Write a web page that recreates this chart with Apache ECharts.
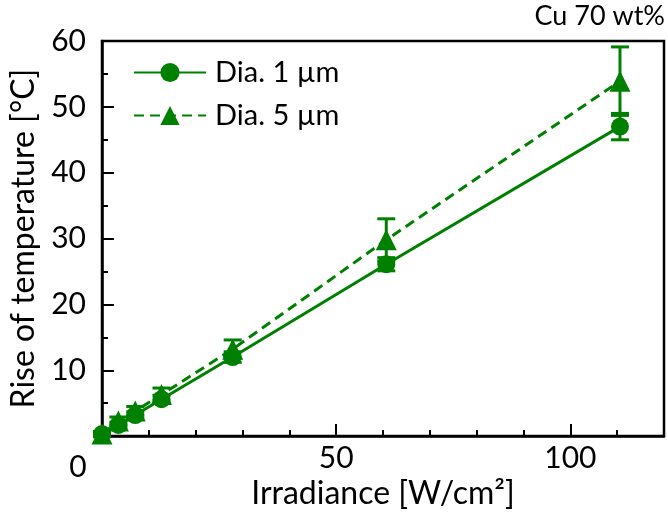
<!DOCTYPE html>
<html>
<head>
<meta charset="utf-8">
<script src="https://cdn.jsdelivr.net/npm/echarts@6/dist/echarts.min.js"></script>
<style>
  html, body { margin: 0; padding: 0; background: #fff; }
  #main { width: 668px; height: 515px; }
</style>
</head>
<body>
<div id="main"></div>
<script>
// irradiance [W/cm2]
var irradiance = [0, 3.5, 7.1, 12.7, 27.9, 60.7, 110.6];
// Dia. 1 um
var rise1 = [0.3, 1.7, 3.2, 5.6, 12.0, 26.1, 47.0];
var err1 = [0.3, 0.4, 0.5, 0.6, 0.8, 1.0, 2.0];
// Dia. 5 um
var rise5 = [0.3, 2.3, 3.8, 6.3, 13.2, 29.8, 53.9];
var err5 = [0.4, 0.6, 0.7, 1.0, 1.4, 3.2, 5.2];
var names = ['Dia. 1 \u00b5m', 'Dia. 5 \u00b5m'];

var green = '#008000';
var font = 'Lato';

function pairs(xs, ys) {
  return xs.map(function (x, i) { return [x, ys[i]]; });
}
function errData(xs, ys, es) {
  return xs.map(function (x, i) { return [x, ys[i] - es[i], ys[i] + es[i]]; });
}
function errRender(params, api) {
  var lo = api.coord([api.value(0), api.value(1)]);
  var hi = api.coord([api.value(0), api.value(2)]);
  var w = 9;
  var style = { stroke: green, lineWidth: 3 };
  return {
    type: 'group',
    children: [
      { type: 'line', shape: { x1: lo[0], y1: lo[1], x2: hi[0], y2: hi[1] }, style: style },
      { type: 'line', shape: { x1: lo[0] - w, y1: lo[1], x2: lo[0] + w, y2: lo[1] }, style: style },
      { type: 'line', shape: { x1: hi[0] - w, y1: hi[1], x2: hi[0] + w, y2: hi[1] }, style: style }
    ]
  };
}

var chart = echarts.init(document.getElementById('main'), null, { renderer: 'canvas' });
var option = {
  animation: false,
  textStyle: { fontFamily: font },
  title: {
    text: 'Cu 70 wt%',
    right: 3,
    top: 3,
    padding: 0,
    textStyle: { fontFamily: font, fontSize: 27, fontWeight: 'normal', color: '#000' }
  },
  legend: {
    data: names,
    orient: 'vertical',
    left: 133,
    top: 58,
    padding: 0,
    itemWidth: 72,
    itemHeight: 24,
    itemGap: 14,
    textStyle: { fontFamily: font, fontSize: 29, color: '#000', padding: [0, 0, 0, 4] }
  },
  grid: {
    left: 100,
    right: 4,
    top: 41,
    bottom: 71,
    show: true,
    borderColor: '#000',
    borderWidth: 2.5,
    containLabel: false
  },
  xAxis: [
    {
      type: 'value',
      min: 0,
      max: 120,
      interval: 50,
      name: 'Irradiance [W/cm\u00b2]',
      nameLocation: 'middle',
      nameGap: 36,
      nameTextStyle: { fontFamily: font, fontSize: 32, color: '#000' },
      axisLine: { show: true, lineStyle: { color: '#000', width: 2.5 } },
      axisTick: { show: true, inside: true, length: 12, lineStyle: { color: '#000', width: 2 } },
      axisLabel: {
        fontFamily: font, fontSize: 30, color: '#000', margin: 7,
        formatter: function (v) { return (v === 0 || v === 120) ? '' : String(v); }
      },
      splitLine: { show: false }
    },
    {
      type: 'value',
      min: 0,
      max: 120,
      interval: 10,
      position: 'bottom',
      axisLine: { show: false },
      axisTick: { show: true, inside: true, length: 6, lineStyle: { color: '#000', width: 2 } },
      axisLabel: { show: false },
      splitLine: { show: false }
    }
  ],
  yAxis: {
    type: 'value',
    min: 0,
    max: 60,
    interval: 10,
    name: 'Rise of temperature [\u00b0C]',
    nameLocation: 'middle',
    nameGap: 62,
    nameTextStyle: { fontFamily: font, fontSize: 32, color: '#000' },
    axisLine: { show: true, lineStyle: { color: '#000', width: 2.5 } },
    axisTick: { show: true, inside: true, length: 12, lineStyle: { color: '#000', width: 2 } },
    minorTick: { show: true, splitNumber: 2, length: 6, lineStyle: { color: '#000', width: 2 } },
    axisLabel: {
      fontFamily: font, fontSize: 30, color: '#000', margin: 16,
      formatter: function (v) { return v === 0 ? '' : String(v); }
    },
    splitLine: { show: false }
  },
  graphic: [
    {
      type: 'text',
      x: 78,
      y: 467,
      style: {
        text: '0', fontFamily: font, fontSize: 30, fill: '#000',
        textAlign: 'center', textVerticalAlign: 'middle'
      }
    }
  ],
  series: [
    {
      type: 'custom',
      name: 'err1',
      renderItem: errRender,
      data: errData(irradiance, rise1, err1),
      z: 1,
      silent: true
    },
    {
      type: 'custom',
      name: 'err5',
      renderItem: errRender,
      data: errData(irradiance, rise5, err5),
      z: 1,
      silent: true
    },
    {
      type: 'line',
      name: names[0],
      data: pairs(irradiance, rise1),
      symbol: 'circle',
      symbolSize: 18,
      color: green,
      itemStyle: { color: green },
      lineStyle: { color: green, width: 3, type: 'solid' },
      z: 3
    },
    {
      type: 'line',
      name: names[1],
      data: pairs(irradiance, rise5),
      symbol: 'triangle',
      symbolSize: 21,
      color: green,
      itemStyle: { color: green },
      lineStyle: { color: green, width: 3, type: [10, 6] },
      z: 3
    }
  ]
};
chart.setOption(option);
</script>
</body>
</html>
